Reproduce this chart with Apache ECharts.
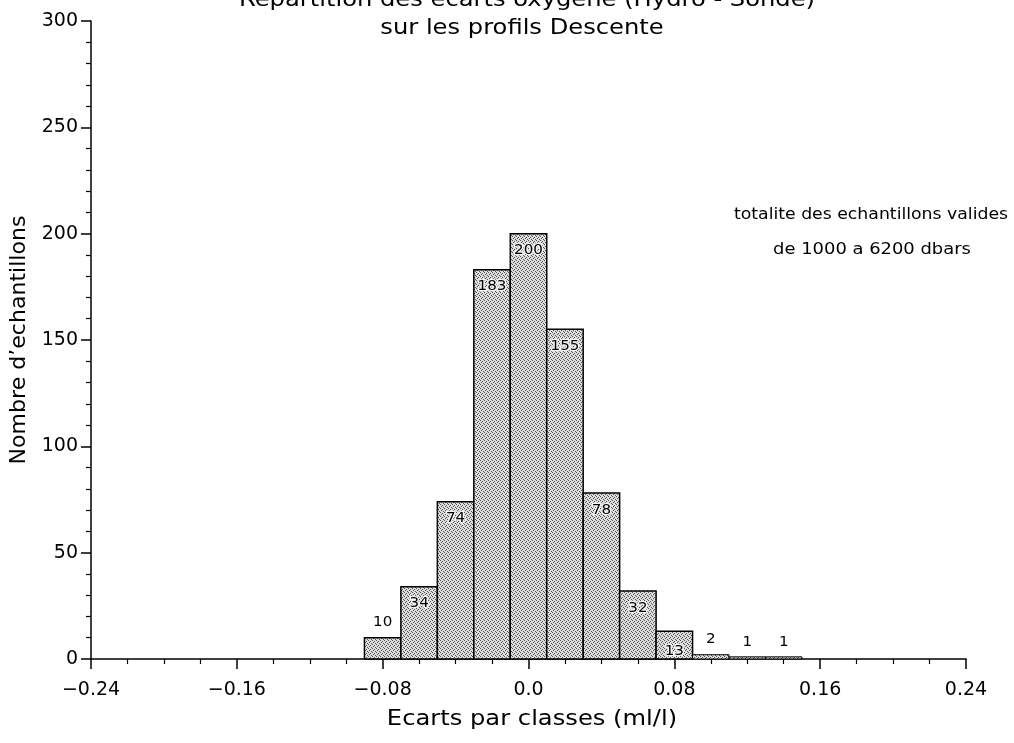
<!DOCTYPE html>
<html>
<head>
<meta charset="utf-8">
<title>Repartition des ecarts oxygene</title>
<script src="https://cdn.jsdelivr.net/npm/echarts@6/dist/echarts.min.js"></script>
<style>
  html, body { margin: 0; padding: 0; background: #fff; }
  #chart { width: 1014px; height: 743px; }
</style>
</head>
<body>
<div id="chart"></div>
<script>
// Histogram classes (centre of each 0.02 ml/l class) and sample counts
const binCenters = [-0.08, -0.06, -0.04, -0.02, 0.0, 0.02, 0.04, 0.06, 0.08, 0.10, 0.12, 0.14];
const counts = [10, 34, 74, 183, 200, 155, 78, 32, 13, 2, 1, 1];
const binWidth = 0.02;

const titleLines = ['Repartition des ecarts oxygene (Hydro - Sonde)', 'sur les profils Descente'];
const noteLines = ['totalite des echantillons valides', 'de 1000 a 6200 dbars'];
const xName = 'Ecarts par classes (ml/l)';
const yName = 'Nombre d\u2019echantillons';

const FONT = '"DejaVu Sans", "Liberation Sans", sans-serif';

// Stippled grey fill for the bars
function stipple() {
  const c = document.createElement('canvas');
  c.width = 4; c.height = 4;
  const g = c.getContext('2d');
  g.fillStyle = '#dedede';
  g.fillRect(0, 0, 4, 4);
  g.fillStyle = '#505050';
  [[0, 0], [2, 1], [1, 2], [3, 3]].forEach(p => g.fillRect(p[0], p[1], 1, 1));
  return c;
}
const barFill = { image: stipple(), repeat: 'repeat' };

function fmtX(v) {
  if (Math.abs(v) < 1e-9) return '0.0';
  const s = Math.abs(v).toFixed(2);
  return (v < 0 ? '\u2212' : '') + s;
}

function label(text, x, y, size, sx, extra) {
  return Object.assign({
    type: 'text', x: x, y: y, scaleX: sx,
    style: { text: text, align: 'center', verticalAlign: 'middle', fill: '#000', font: size + 'px ' + FONT }
  }, extra || {});
}

const chart = echarts.init(document.getElementById('chart'), null, { renderer: 'canvas' });

const option = {
  animation: false,
  backgroundColor: '#ffffff',
  grid: { left: 91, right: 48, top: 21, bottom: 84, containLabel: false },
  xAxis: {
    type: 'value',
    min: -0.24,
    max: 0.24,
    interval: 0.08,
    axisLine: { show: true, onZero: false, lineStyle: { color: '#000', width: 1.5 } },
    axisTick: { show: true, inside: false, length: 10, lineStyle: { color: '#000', width: 1.5 } },
    minorTick: { show: true, splitNumber: 4, length: 5, lineStyle: { color: '#000', width: 1.2 } },
    splitLine: { show: false },
    axisLabel: { formatter: fmtX, color: '#000', fontFamily: FONT, fontSize: 19, margin: 22 }
  },
  yAxis: {
    type: 'value',
    min: 0,
    max: 300,
    interval: 50,
    axisLine: { show: true, onZero: false, lineStyle: { color: '#000', width: 1.5 } },
    axisTick: { show: true, inside: false, length: 10, lineStyle: { color: '#000', width: 1.5 } },
    minorTick: { show: true, splitNumber: 5, length: 5, lineStyle: { color: '#000', width: 1.2 } },
    splitLine: { show: false },
    axisLabel: { color: '#000', fontFamily: FONT, fontSize: 19, margin: 13 }
  },
  series: [{
    type: 'custom',
    data: binCenters.map((c, i) => [c, counts[i]]),
    clip: false,
    renderItem: function (params, api) {
      const xc = api.value(0);
      const v = api.value(1);
      const tl = api.coord([xc - binWidth / 2, v]);
      const br = api.coord([xc + binWidth / 2, 0]);
      const cx = (tl[0] + br[0]) / 2;
      const h = br[1] - tl[1];
      // label: inside the top of tall bars, near the base of medium ones, above the tiny ones
      let ly, halo;
      if (v >= 30) { ly = tl[1] + 17; halo = true; }
      else if (v >= 12) { ly = br[1] - 8; halo = true; }
      else { ly = tl[1] - 15; halo = false; }
      return {
        type: 'group',
        children: [{
          type: 'rect',
          shape: { x: tl[0], y: tl[1], width: br[0] - tl[0], height: h },
          style: { fill: barFill, stroke: '#000', lineWidth: v >= 3 ? 1.5 : 1 }
        }, {
          type: 'text',
          x: cx, y: ly, scaleX: 1.08,
          style: {
            text: String(v),
            x: 0, y: 0,
            align: 'center', verticalAlign: 'middle',
            fill: '#000',
            font: '14px ' + FONT,
            stroke: halo ? '#f4f4f4' : null,
            lineWidth: halo ? 2.5 : 0
          },
          z2: 10
        }]
      };
    }
  }],
  graphic: [
    label(titleLines[0], 527, 0, 22, 1.1),
    label(titleLines[1], 522, 28, 22, 1.1),
    label(noteLines[0], 871, 215, 16, 1.08),
    label(noteLines[1], 872, 250, 16, 1.12),
    label(xName, 532, 719, 22, 1.1),
    label(yName, 20, 340, 21, 1.05, { rotation: Math.PI / 2 })
  ]
};

chart.setOption(option);
</script>
</body>
</html>
